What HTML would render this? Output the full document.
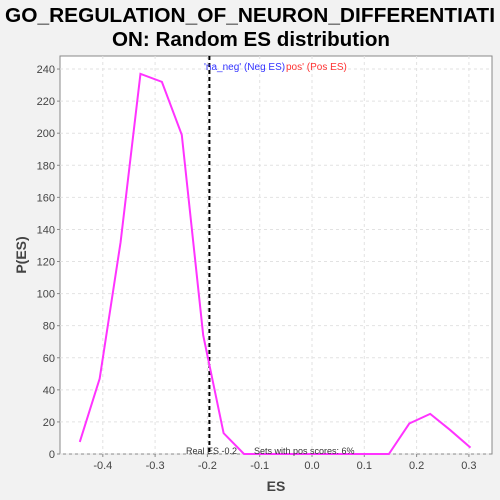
<!DOCTYPE html>
<html><head><meta charset="utf-8"><style>
body{margin:0;background:#f2f2f2;font-family:"Liberation Sans",sans-serif}
</style></head><body>
<svg width="500" height="500" id="c" style="display:block">
<rect width="500" height="500" fill="#f2f2f2"/>
<text x="5" y="22" textLength="490" lengthAdjust="spacingAndGlyphs" font-size="20" font-weight="bold" fill="#000">GO_REGULATION_OF_NEURON_DIFFERENTIATI</text>
<text x="112" y="46" textLength="278" lengthAdjust="spacingAndGlyphs" font-size="20" font-weight="bold" fill="#000">ON: Random ES distribution</text>
<rect x="60" y="56" width="432" height="398" fill="#fff" stroke="#888"/>
<g id="grid"></g><g id="axes"></g>
<text x="276" y="491" text-anchor="middle" font-size="14" font-weight="bold" fill="#444">ES</text>
<text transform="translate(26,255) rotate(-90)" text-anchor="middle" font-size="14" font-weight="bold" fill="#444">P(ES)</text>
<g id="marks"></g>
</svg>
<script>
const xs=[-0.444,-0.406,-0.366,-0.328,-0.287,-0.249,-0.208,-0.169,-0.13,-0.09,0.147,0.186,0.226,0.264,0.303];
const ys=[7.5,47,132,237,232,199,74,13,0,0,0,19,25,15,4];
const xTicks=[-0.4,-0.3,-0.2,-0.1,0.0,0.1,0.2,0.3];
const yTicks=[0,20,40,60,80,100,120,140,160,180,200,220,240];
const realES=-0.2;
const X=v=>312+v*523, Y=v=>454-v*1.604;
const NS="http://www.w3.org/2000/svg";
function mk(p,t,a){const e=document.createElementNS(NS,t);for(const k in a)e.setAttribute(k,a[k]);document.getElementById(p).appendChild(e);return e;}
yTicks.forEach(v=>{
 const g=mk('grid','line',{x1:60,x2:492,y1:Y(v),y2:Y(v),stroke:'#e2e2e2','stroke-dasharray':'3,3'});
 
 
 const t=mk('axes','text',{x:55,y:Y(v)+4,'text-anchor':'end','font-size':11,fill:'#444'});t.textContent=v;
 
 
 mk('axes','line',{x1:57,x2:60,y1:Y(v),y2:Y(v),stroke:'#888'});
});
xTicks.forEach(v=>{
 const g=mk('grid','line',{x1:X(v),x2:X(v),y1:56,y2:454,stroke:'#e2e2e2','stroke-dasharray':'3,3'});
 
 
 const t=mk('axes','text',{x:X(v),y:469,'text-anchor':'middle','font-size':11,fill:'#444'});t.textContent=v.toFixed(1);
 
 
 mk('axes','line',{x1:X(v),x2:X(v),y1:454,y2:457,stroke:'#888'});
});
const rl=mk('marks','line',{x1:X(realES)+2,x2:X(realES)+2,y1:56,y2:454,stroke:'#000','stroke-width':2,'stroke-dasharray':'4,3'});


const pl=mk('marks','polyline',{points:xs.map((x,i)=>X(x)+','+Y(ys[i])).join(' '),fill:'none',stroke:'#ff33ff','stroke-width':2});


const a=mk('marks','text',{x:204,y:70,'font-size':10,fill:'#3333ff'});a.textContent="'na_neg' (Neg ES)";


const b=mk('marks','text',{x:286,y:70,'font-size':10,fill:'#ff3333'});b.textContent="pos' (Pos ES)";


const c=mk('marks','text',{x:186,y:454,'font-size':9,fill:'#333'});c.textContent="Real ES -0.2";


const d=mk('marks','text',{x:254,y:454,'font-size':9,fill:'#333'});d.textContent="Sets with pos scores: 6%";


</script>
</body></html>
